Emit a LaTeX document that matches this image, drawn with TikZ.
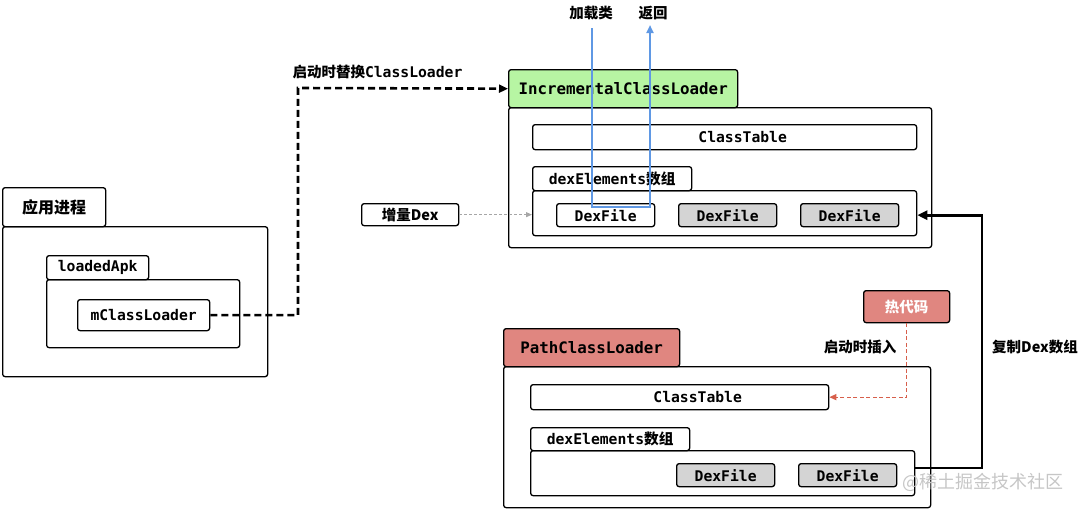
\documentclass[tikz,border=0pt]{standalone}
\usepackage{fontspec}
\setmainfont{Noto Sans CJK SC}
\newfontfamily\mono{DejaVu Sans Mono}
\newfontfamily\cjk{Noto Sans CJK SC}
\usetikzlibrary{arrows.meta}
\definecolor{icgreen}{RGB}{183,245,163}
\definecolor{pcred}{RGB}{224,134,128}
\definecolor{dexgray}{RGB}{212,212,212}
\definecolor{lineblue}{RGB}{95,152,228}
\definecolor{hotred}{RGB}{215,95,75}
\begin{document}
\begin{tikzpicture}[x=1pt,y=-1pt,
  box/.style={draw=black, line width=1.3pt, rounded corners=2.5pt, inner sep=0pt, anchor=north west},
  monotxt/.style={font=\mono\bfseries\fontsize{14.7}{16}\selectfont},
  titletxt/.style={font=\mono\bfseries\fontsize{15.8}{18}\selectfont},
  cjktxt/.style={font=\cjk\bfseries\fontsize{14.5}{16}\selectfont},
  dexbox/.style={box, fill=dexgray, monotxt}]
\useasboundingbox (0,0) rectangle (1080,509);

% ---------- left: app process ----------
\node[box, minimum width=103pt, minimum height=39pt, font=\cjk\bfseries\fontsize{16}{18}\selectfont] (apptab) at (2,187) {应用进程};
\node[box, minimum width=265pt, minimum height=150pt] (appbox) at (2,226) {};
\node[box, minimum width=102pt, minimum height=24pt, monotxt] (lapktab) at (46,255) {loadedApk};
\node[box, minimum width=193pt, minimum height=68pt] (lapkbox) at (46,279) {};
\node[box, minimum width=132pt, minimum height=31pt, monotxt] (mcl) at (77,299) {mClassLoader};

% ---------- IncrementalClassLoader ----------
\node[box, fill=icgreen, minimum width=229pt, minimum height=38pt, titletxt] (icl) at (508,69) {IncrementalClassLoader};
\node[box, minimum width=423pt, minimum height=140pt] (iclbox) at (508,107) {};
\node[box, minimum width=384pt, minimum height=25pt, monotxt] (ict) at (532,124) {\hspace*{36pt}ClassTable};
\node[box, minimum width=159pt, minimum height=24pt, monotxt] (idetab) at (532,166) {dexElements{\cjk 数组}};
\node[box, minimum width=384pt, minimum height=45pt] (idebox) at (532,190) {};
\node[box, fill=white, minimum width=98pt, minimum height=23pt, monotxt] (idf1) at (556,203) {DexFile};
\node[dexbox, minimum width=98pt, minimum height=23pt] (idf2) at (678,203) {DexFile};
\node[dexbox, minimum width=98pt, minimum height=23pt] (idf3) at (800,203) {DexFile};
\node[box, minimum width=97pt, minimum height=22pt, cjktxt] (inc) at (361,203) {增量Dex};

% ---------- PathClassLoader ----------
\node[box, fill=pcred, minimum width=176pt, minimum height=38pt, titletxt] (pcl) at (503,328) {PathClassLoader};
\node[box, minimum width=427pt, minimum height=141pt] (pclbox) at (503,366) {};
\node[box, minimum width=298pt, minimum height=25pt, monotxt] (pct) at (530,384) {\hspace*{36pt}ClassTable};
\node[box, minimum width=159pt, minimum height=23pt, monotxt] (pdetab) at (530,427) {dexElements{\cjk 数组}};
\node[box, minimum width=384pt, minimum height=45pt] (pdebox) at (530,450) {};
\node[dexbox, minimum width=98pt, minimum height=23pt] (pdf1) at (676,463) {DexFile};
\node[dexbox, minimum width=98pt, minimum height=23pt] (pdf2) at (798,463) {DexFile};
\node[box, fill=pcred, draw=black, minimum width=86pt, minimum height=32pt, cjktxt, text=white] (hot) at (863,290) {热代码};

% ---------- connectors ----------
% replace ClassLoader at startup
\coordinate (bendA) at (298,88);
\draw[line width=2.6pt, dash pattern=on 7pt off 4pt, -{Triangle[length=9pt,width=8pt]}]
  (mcl.east) -| (bendA) -- (icl.west);
\node[anchor=west, font=\cjk\bfseries\fontsize{14.5}{16}\selectfont] (lblA) at (289,72) {启动时替换{\mono\fontsize{14.7}{16}\selectfont ClassLoader}};

% load class / return
\coordinate (blTop) at (592,28);
\coordinate (blBot) at (592,207);
\coordinate (brBot) at (650,207);
\coordinate (brTop) at (650,25);
\draw[lineblue, line width=2pt, -{Triangle[length=8pt,width=7pt]}] (blTop) -- (blBot) -- (brBot) -- (brTop);
\node[cjktxt] (lblLoad) at (591,13) {加载类};
\node[cjktxt] (lblRet) at (653,13) {返回};

% incremental dex
\draw[gray!70, line width=1pt, dash pattern=on 3pt off 2pt, -{Triangle[length=6pt,width=5pt]}]
  (inc.east) -- (inc.east -| idebox.west);

% hot code insert
\draw[hotred, line width=1.3pt, dash pattern=on 4pt off 2.5pt, -{Triangle[length=7pt,width=6pt]}]
  (hot.south) |- (pct.east);
\node[cjktxt] (lblIns) at (860,347) {启动时插入};

% copy dex array
\coordinate (cpBend) at (982,468);
\draw[line width=2.8pt, -{Triangle[length=10pt,width=9pt]}]
  (pdebox.east |- cpBend) -- (cpBend) |- (idebox.east |- idf3.east);
\node[cjktxt] (lblCopy) at (1035,347) {复制Dex数组};

% watermark
\node[font=\cjk\fontsize{18}{20}\selectfont, text=gray!45] (wm) at (983,482) {@稀土掘金技术社区};
\end{tikzpicture}
\end{document}
